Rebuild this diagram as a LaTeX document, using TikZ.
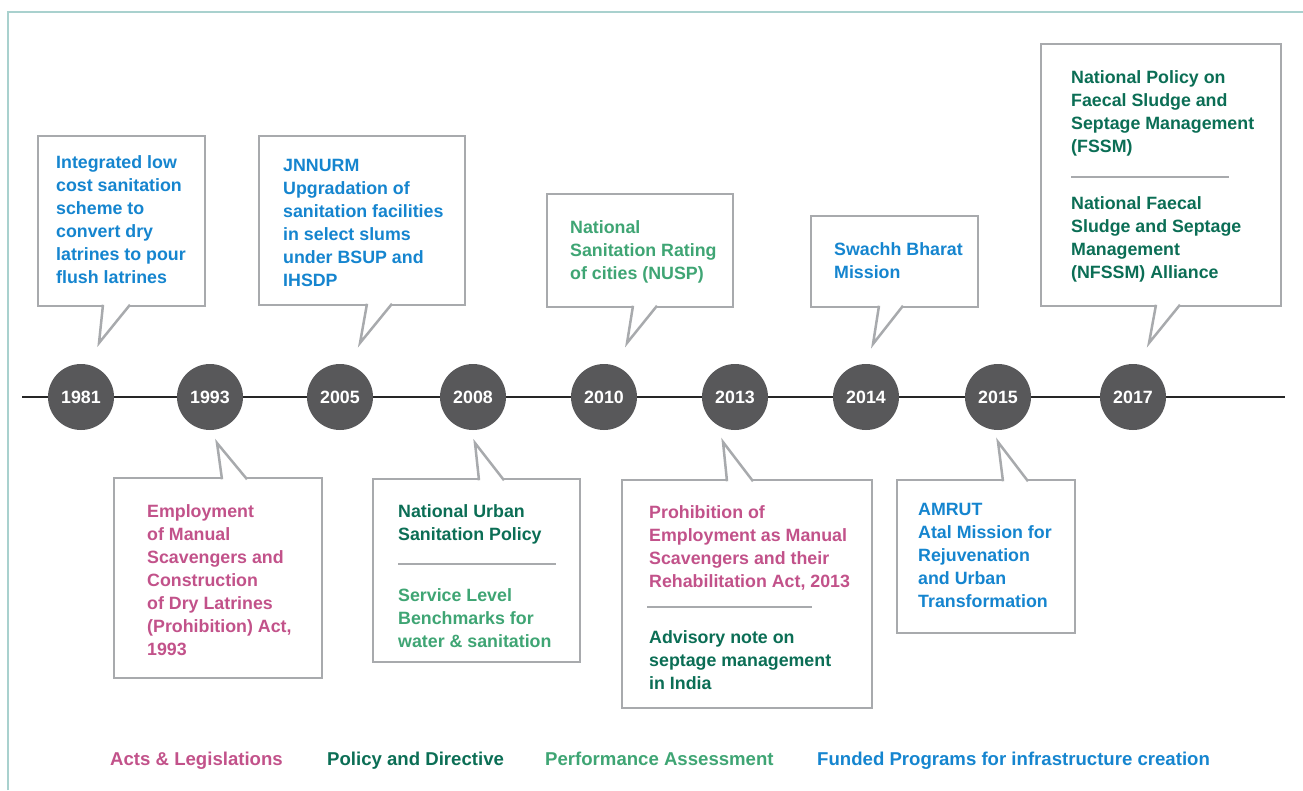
\documentclass[tikz,border=0pt]{standalone}
\usepackage{fontspec}
\setmainfont{Liberation Sans}
\usetikzlibrary{positioning}
\definecolor{actspink}{HTML}{C2528A}
\definecolor{policygreen}{HTML}{0B6E55}
\definecolor{perfgreen}{HTML}{3FA574}
\definecolor{fundblue}{HTML}{1585CF}
\definecolor{boxgray}{HTML}{A8AAAD}
\definecolor{dotgray}{HTML}{58585A}
\definecolor{framecol}{HTML}{A9D1CE}
\newcommand{\boxfont}{\bfseries\fontsize{17.8}{23}\selectfont}
\newcommand{\legendfont}{\bfseries\fontsize{18.6}{23}\selectfont}
\tikzset{
  yearnode/.style={circle, fill=dotgray, text=white, minimum size=66pt, inner sep=0pt, font=\boxfont},
  infobox/.style={draw=boxgray, line width=2.5pt, fill=white, anchor=north west, inner sep=0pt, outer sep=0pt},
  infotext/.style={anchor=north west, inner sep=0pt, align=left, font=\boxfont},
  pointer/.style={draw=boxgray, line width=2.5pt, line join=miter},
  divider/.style={draw=boxgray, line width=2pt},
  legend/.style={anchor=base west, inner sep=0pt, font=\legendfont},
}
\begin{document}
\begin{tikzpicture}[x=1pt, y=-1pt]
  \useasboundingbox (0,0) rectangle (1303,790);
  % frame
  \draw[framecol, line width=1.5pt] (8,790) -- (8,12) -- (1303,12);
  % time line
  \coordinate (tlstart) at (22,397);
  \coordinate (tlend) at (1285,397);
  \draw[line width=2pt, black!85] (tlstart) -- (tlend);
  \node[yearnode] (y1981) at (81,397) {1981};
  \node[yearnode] (y1993) at (210,397) {1993};
  \node[yearnode] (y2005) at (340,397) {2005};
  \node[yearnode] (y2008) at (473,397) {2008};
  \node[yearnode] (y2010) at (604,397) {2010};
  \node[yearnode] (y2013) at (735,397) {2013};
  \node[yearnode] (y2014) at (866,397) {2014};
  \node[yearnode] (y2015) at (998,397) {2015};
  \node[yearnode] (y2017) at (1133,397) {2017};

  % boxes above the line
  \node[infobox, minimum width=167pt, minimum height=170pt] (b1981) at (38,136) {};
  \coordinate (p1981) at (99,343);
  \fill[white] ([xshift=65pt,yshift=2pt]b1981.south west) -- (p1981) -- ([xshift=92pt,yshift=2pt]b1981.south west) -- cycle;
  \draw[pointer] ([xshift=65pt,yshift=1.25pt]b1981.south west) -- (p1981) -- ([xshift=92pt,yshift=1.25pt]b1981.south west);
  \node[infotext, text=fundblue] (x1981) at (56,155) {Integrated low\\cost sanitation\\scheme to\\convert dry\\latrines to pour\\flush latrines};

  \node[infobox, minimum width=206pt, minimum height=169pt] (b2005) at (259,136) {};
  \coordinate (p2005) at (360,343);
  \fill[white] ([xshift=108pt,yshift=2pt]b2005.south west) -- (p2005) -- ([xshift=133pt,yshift=2pt]b2005.south west) -- cycle;
  \draw[pointer] ([xshift=108pt,yshift=1.25pt]b2005.south west) -- (p2005) -- ([xshift=133pt,yshift=1.25pt]b2005.south west);
  \node[infotext, text=fundblue] (x2005) at (283,159) {JNNURM\\Upgradation of\\sanitation facilities\\in select slums\\under BSUP and\\IHSDP};

  \node[infobox, minimum width=186pt, minimum height=113pt] (b2010) at (547,194) {};
  \coordinate (p2010) at (627,343);
  \fill[white] ([xshift=86pt,yshift=2pt]b2010.south west) -- (p2010) -- ([xshift=110pt,yshift=2pt]b2010.south west) -- cycle;
  \draw[pointer] ([xshift=86pt,yshift=1.25pt]b2010.south west) -- (p2010) -- ([xshift=110pt,yshift=1.25pt]b2010.south west);
  \node[infotext, text=perfgreen] (x2010) at (570,220) {National\\Sanitation Rating\\of cities (NUSP)};

  \node[infobox, minimum width=167pt, minimum height=91pt] (b2014) at (811,216) {};
  \coordinate (p2014) at (873,344);
  \fill[white] ([xshift=68pt,yshift=2pt]b2014.south west) -- (p2014) -- ([xshift=92pt,yshift=2pt]b2014.south west) -- cycle;
  \draw[pointer] ([xshift=68pt,yshift=1.25pt]b2014.south west) -- (p2014) -- ([xshift=92pt,yshift=1.25pt]b2014.south west);
  \node[infotext, text=fundblue] (x2014) at (834,242) {Swachh Bharat\\Mission};

  \node[infobox, minimum width=240pt, minimum height=262pt] (b2017) at (1041,44) {};
  \coordinate (p2017) at (1149,343);
  \fill[white] ([xshift=115pt,yshift=2pt]b2017.south west) -- (p2017) -- ([xshift=139pt,yshift=2pt]b2017.south west) -- cycle;
  \draw[pointer] ([xshift=115pt,yshift=1.25pt]b2017.south west) -- (p2017) -- ([xshift=139pt,yshift=1.25pt]b2017.south west);
  \node[infotext, text=policygreen] (x2017a) at (1071,70) {National Policy on\\Faecal Sludge and\\Septage Management\\(FSSM)};
  \draw[divider] (1071,177) -- (1229,177);
  \node[infotext, text=policygreen] (x2017b) at (1071,196) {National Faecal\\Sludge and Septage\\Management\\(NFSSM) Alliance};

  % boxes below the line
  \node[infobox, minimum width=208pt, minimum height=200pt] (b1993) at (114,478) {};
  \coordinate (p1993) at (217,443);
  \fill[white] ([xshift=108pt,yshift=-2pt]b1993.north west) -- (p1993) -- ([xshift=133pt,yshift=-2pt]b1993.north west) -- cycle;
  \draw[pointer] ([xshift=108pt,yshift=-1.25pt]b1993.north west) -- (p1993) -- ([xshift=133pt,yshift=-1.25pt]b1993.north west);
  \node[infotext, text=actspink] (x1993) at (147,504) {Employment\\of Manual\\Scavengers and\\Construction\\of Dry Latrines\\(Prohibition) Act,\\1993};

  \node[infobox, minimum width=207pt, minimum height=183pt] (b2008) at (373,479) {};
  \coordinate (p2008) at (475,443);
  \fill[white] ([xshift=106pt,yshift=-2pt]b2008.north west) -- (p2008) -- ([xshift=131pt,yshift=-2pt]b2008.north west) -- cycle;
  \draw[pointer] ([xshift=106pt,yshift=-1.25pt]b2008.north west) -- (p2008) -- ([xshift=131pt,yshift=-1.25pt]b2008.north west);
  \node[infotext, text=policygreen] (x2008a) at (398,504) {National Urban\\Sanitation Policy};
  \draw[divider] (398,564) -- (556,564);
  \node[infotext, text=perfgreen] (x2008b) at (398,588) {Service Level\\Benchmarks for\\water \& sanitation};

  \node[infobox, minimum width=250pt, minimum height=228pt] (b2013) at (622,480) {};
  \coordinate (p2013) at (723,442);
  \fill[white] ([xshift=105pt,yshift=-2pt]b2013.north west) -- (p2013) -- ([xshift=131pt,yshift=-2pt]b2013.north west) -- cycle;
  \draw[pointer] ([xshift=105pt,yshift=-1.25pt]b2013.north west) -- (p2013) -- ([xshift=131pt,yshift=-1.25pt]b2013.north west);
  \node[infotext, text=actspink] (x2013a) at (649,505) {Prohibition of\\Employment as Manual\\Scavengers and their\\Rehabilitation Act, 2013};
  \draw[divider] (647,607) -- (812,607);
  \node[infotext, text=policygreen] (x2013b) at (649,630) {Advisory note on\\septage management\\in India};

  \node[infobox, minimum width=178pt, minimum height=153pt] (b2015) at (897,480) {};
  \coordinate (p2015) at (998,442);
  \fill[white] ([xshift=106pt,yshift=-2pt]b2015.north west) -- (p2015) -- ([xshift=131pt,yshift=-2pt]b2015.north west) -- cycle;
  \draw[pointer] ([xshift=106pt,yshift=-1.25pt]b2015.north west) -- (p2015) -- ([xshift=131pt,yshift=-1.25pt]b2015.north west);
  \node[infotext, text=fundblue] (x2015) at (918,503) {AMRUT\\Atal Mission for\\Rejuvenation\\and Urban\\Transformation};

  % legend
  \node[legend, text=actspink] (lacts) at (110,765) {Acts \& Legislations};
  \node[legend, text=policygreen] (lpolicy) at (327,765) {Policy and Directive};
  \node[legend, text=perfgreen] (lperf) at (545,765) {Performance Assessment};
  \node[legend, text=fundblue] (lfund) at (817,765) {Funded Programs for infrastructure creation};
\end{tikzpicture}
\end{document}
